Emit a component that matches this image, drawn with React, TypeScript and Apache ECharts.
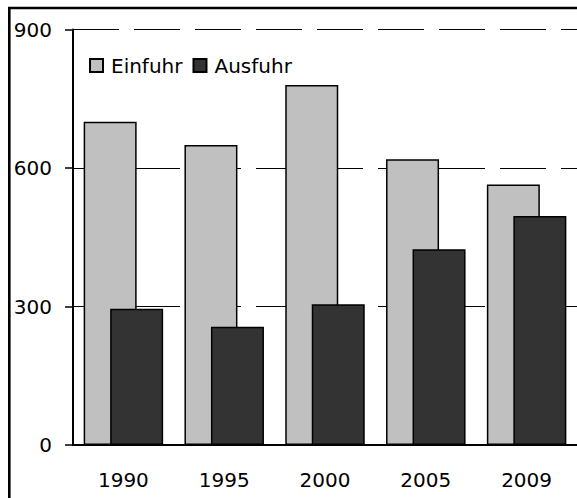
import React, { useEffect, useRef } from "react";
import * as echarts from "echarts";

const categories = ["1990", "1995", "2000", "2005", "2009"];
const einfuhr = [700, 650, 780, 619, 564];
const ausfuhr = [295, 256, 305, 424, 496];
const seriesNames = ["Einfuhr", "Ausfuhr"];

export default function App() {
  const ref = useRef<HTMLDivElement>(null);
  useEffect(() => {
    if (!ref.current) return;
    const chart = echarts.init(ref.current, null, { renderer: "svg" });
    const font = "DejaVu Sans";
    chart.setOption({
      animation: false,
      backgroundColor: "#ffffff",
      textStyle: { fontFamily: font },
      graphic: [
        {
          type: "polyline",
          shape: { points: [[9.3, 520], [9.3, 8], [600, 8]] },
          style: { fill: "none", stroke: "#000", lineWidth: 2.6 },
          z: 100,
        },
      ],
      legend: {
        left: 89,
        top: 55.5,
        padding: 0,
        itemWidth: 13,
        itemHeight: 13,
        itemGap: 10,
        icon: "rect",
        data: seriesNames,
        textStyle: {
          fontFamily: font,
          fontSize: 20,
          color: "#000",
          padding: [0, 0, 0, 3],
        },
      },
      grid: { left: 73, top: 29.5, right: 0, bottom: 53 },
      xAxis: {
        type: "category",
        data: categories,
        axisLine: { show: true, lineStyle: { color: "#000", width: 2 } },
        axisTick: { show: false },
        axisLabel: {
          fontFamily: font,
          fontSize: 20,
          color: "#000",
          margin: 25,
        },
        z: 10,
      },
      yAxis: {
        type: "value",
        min: 0,
        max: 900,
        interval: 300,
        axisLine: { show: true, lineStyle: { color: "#000", width: 2 } },
        axisTick: {
          show: true,
          inside: false,
          length: 8,
          lineStyle: { color: "#000", width: 1.5 },
        },
        axisLabel: {
          fontFamily: font,
          fontSize: 20,
          color: "#000",
          margin: 21,
        },
        splitLine: {
          show: true,
          lineStyle: { color: "#000", width: 1.2, type: [46, 15], dashOffset: 0 },
        },
      },
      series: [
        {
          name: seriesNames[0],
          type: "bar",
          data: einfuhr,
          barWidth: 53,
          barGap: "-50%",
          itemStyle: { color: "#c0c0c0", borderColor: "#000", borderWidth: 1.5 },
        },
        {
          name: seriesNames[1],
          type: "bar",
          data: ausfuhr,
          barWidth: 53,
          barGap: "-50%",
          itemStyle: { color: "#333333", borderColor: "#000", borderWidth: 1.5 },
        },
      ],
    });
    return () => chart.dispose();
  }, []);
  return (
    <div
      ref={ref}
      style={{ position: "absolute", left: 0, top: 0, width: 577, height: 498 }}
    />
  );
}
